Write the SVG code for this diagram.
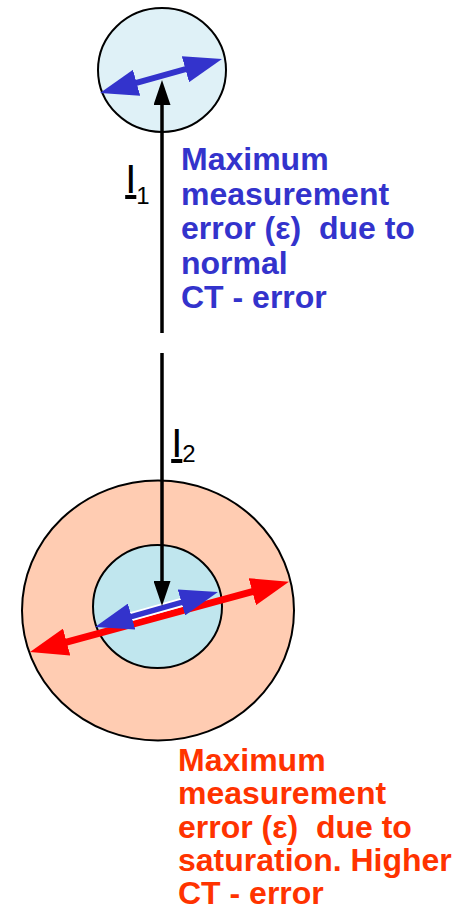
<svg xmlns="http://www.w3.org/2000/svg" width="458" height="910" viewBox="0 0 458 910">
<style>
.circ{stroke:#000;stroke-width:2}
.lbl{font-family:"Liberation Sans",Arial,sans-serif;font-weight:bold;font-size:32px;white-space:pre}
.blue{fill:#3333cc}
.red{fill:#ff3300}
.cur{font-family:"Liberation Sans",Arial,sans-serif;fill:#000}
</style>
<defs>
<marker id="hb" markerUnits="userSpaceOnUse" viewBox="0 0 38 27" markerWidth="38" markerHeight="27" refX="3" refY="13.5" orient="auto-start-reverse">
<path d="M0,0 L38,13.5 L0,27 z" fill="#3333cc"/>
</marker>
<marker id="hr" markerUnits="userSpaceOnUse" viewBox="0 0 38 28" markerWidth="38" markerHeight="28" refX="3" refY="14" orient="auto-start-reverse">
<path d="M0,0 L38,14 L0,28 z" fill="#ff0000"/>
</marker>
<marker id="hk" markerUnits="userSpaceOnUse" viewBox="0 0 25 17" markerWidth="25" markerHeight="17" refX="2" refY="8.5" orient="auto">
<path d="M0,0 L25,8.5 L0,17 z" fill="#000"/>
</marker>
</defs>
<g id="outer-circle"><ellipse class="circ" cx="158" cy="610.5" rx="136" ry="130" fill="#ffccb2"/></g>
<g id="inner-circle"><ellipse class="circ" cx="157.5" cy="606.5" rx="64.5" ry="61.5" fill="#c0e6ee"/></g>
<g id="top-circle"><ellipse class="circ" cx="162" cy="70" rx="64" ry="62" fill="#dff1f7"/></g>
<g id="connectors">
<line x1="63.8" y1="642.9" x2="255.2" y2="590.9" stroke="#ff0000" stroke-width="7" marker-start="url(#hr)" marker-end="url(#hr)"/>
<line x1="128.7" y1="617.4" x2="184.3" y2="601.6" stroke="#ffffff" stroke-width="9"/>
<line x1="128.7" y1="617.4" x2="184.3" y2="601.6" stroke="#3333cc" stroke-width="5.5" marker-start="url(#hb)" marker-end="url(#hb)"/>
<line x1="133.7" y1="83.6" x2="188.3" y2="68.4" stroke="#3333cc" stroke-width="6" marker-start="url(#hb)" marker-end="url(#hb)"/>
<line x1="162" y1="333" x2="162" y2="103" stroke="#000" stroke-width="3.5" marker-end="url(#hk)"/>
<line x1="162" y1="353" x2="162" y2="583" stroke="#000" stroke-width="3.5" marker-end="url(#hk)"/>
</g>
<g id="label-i1"><text class="cur" x="125.2" y="193" font-size="40"><tspan text-decoration="underline">I</tspan><tspan font-size="24" dy="11">1</tspan></text></g>
<g id="label-i2"><text class="cur" x="171.2" y="457" font-size="40"><tspan text-decoration="underline">I</tspan><tspan font-size="24" dy="5">2</tspan></text></g>
<g id="text-normal">
<text class="lbl blue" x="181" y="170">Maximum</text>
<text class="lbl blue" x="181" y="204.5">measurement</text>
<text class="lbl blue" x="181" y="239">error (ε)  due to</text>
<text class="lbl blue" x="181" y="273.5">normal</text>
<text class="lbl blue" x="181" y="308">CT - error</text>
</g>
<g id="text-saturation">
<text class="lbl red" x="178" y="771">Maximum</text>
<text class="lbl red" x="178" y="804">measurement</text>
<text class="lbl red" x="178" y="838">error (ε)  due to</text>
<text class="lbl red" x="178" y="871">saturation. Higher</text>
<text class="lbl red" x="178" y="904">CT - error</text>
</g>
</svg>
